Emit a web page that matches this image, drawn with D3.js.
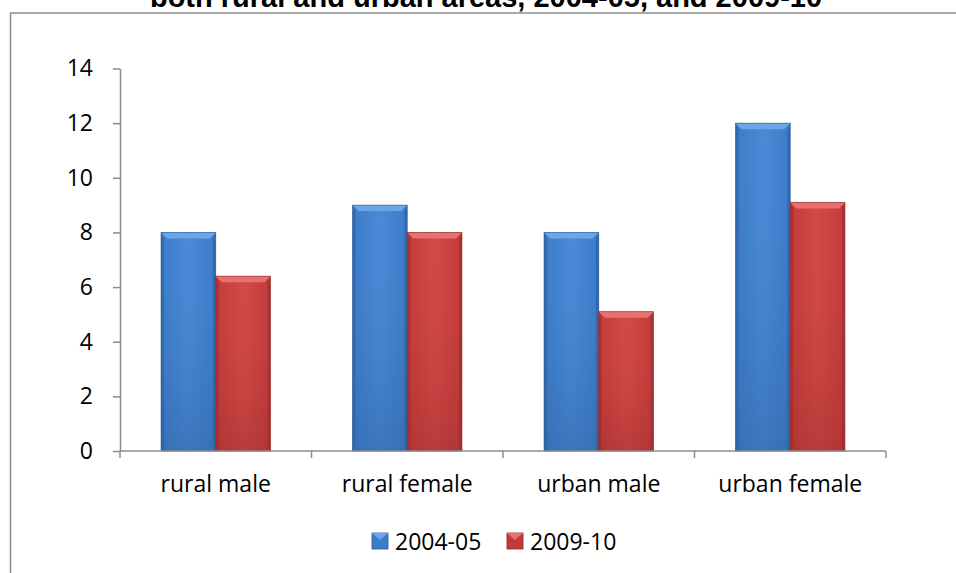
<!DOCTYPE html>
<html><head><meta charset="utf-8">
<script src="https://cdn.jsdelivr.net/npm/d3@7"></script>
<style>body{margin:0;background:#fff}svg{display:block}</style>
</head><body>
<svg id="c" width="956" height="573"></svg>
<script>
const categories = ["rural male", "rural female", "urban male", "urban female"];
const seriesNames = ["2004-05", "2009-10"];
const values2004 = [8, 9, 8, 12];
const values2009 = [6.4, 8, 5.1, 9.1];
const yTicks = [0, 2, 4, 6, 8, 10, 12, 14];
const titleText = "both rural and urban areas, 2004-05, and 2009-10";

(function(){
const seriesValues = [values2004, values2009];
const palette = [
  {top:"#6aa6e8", light:"#4a8ad6", mid:"#3c7bc8", dark:"#2d5f9f", edge:"#2a5590"},
  {top:"#e8706e", light:"#d14a48", mid:"#c23b3a", dark:"#9c2c2b", edge:"#8a2626"}
];

const svg = d3.select("#c");
const font = "'Open Sans', Lato, sans-serif";
const fs = 23;

svg.append("path").attr("d","M10.5,573 L10.5,13 L956,13")
  .attr("fill","none").attr("stroke","#8c8c8c").attr("stroke-width",1.5);

svg.append("text").attr("x",486).attr("y",7).attr("text-anchor","middle")
  .attr("font-family","'Liberation Sans', Arial, sans-serif").attr("font-weight","bold")
  .attr("font-size",29).attr("fill","#000").text(titleText);

const pLeft = 120, pRight = 886, pTop = 68.5, pBottom = 451;
const x = d3.scaleBand().domain(categories).range([pLeft, pRight]).paddingInner(0.4286).paddingOuter(0.2143);
const xs = d3.scaleBand().domain(seriesNames).range([0, x.bandwidth()]);
const y = d3.scaleLinear().domain([0, 14]).range([pBottom, pTop]);

const defs = svg.append("defs");
palette.forEach((p,i)=>{
  const g = defs.append("linearGradient").attr("id","g"+i).attr("x1",0).attr("x2",1).attr("y1",0).attr("y2",0);
  g.append("stop").attr("offset","0").attr("stop-color",p.mid);
  g.append("stop").attr("offset","0.5").attr("stop-color",p.light);
  g.append("stop").attr("offset","1").attr("stop-color",p.mid);
  const v = defs.append("linearGradient").attr("id","v"+i).attr("x1",0).attr("x2",0).attr("y1",0).attr("y2",1);
  v.append("stop").attr("offset","0").attr("stop-color",p.light).attr("stop-opacity",0);
  v.append("stop").attr("offset","1").attr("stop-color",p.dark).attr("stop-opacity",0.45);
});

const bev = 6;
seriesNames.forEach((s, si) => {
  const p = palette[si];
  const gg = svg.append("g");
  categories.forEach((c, ci) => {
    const v = seriesValues[si][ci];
    const x0 = x(c) + xs(s), w = xs.bandwidth(), y0 = y(v), h = y(0) - y(v);
    const b = gg.append("g");
    b.append("rect").attr("x",x0).attr("y",y0).attr("width",w).attr("height",h).attr("fill","url(#g"+si+")");
    b.append("rect").attr("x",x0).attr("y",y0).attr("width",w).attr("height",h).attr("fill","url(#v"+si+")");
    b.append("path").attr("d",`M${x0},${y0} L${x0+3},${y0+bev} L${x0+3},${y0+h} L${x0},${y0+h}Z`).attr("fill",p.dark).attr("opacity",0.6);
    b.append("path").attr("d",`M${x0+w},${y0} L${x0+w-3},${y0+bev} L${x0+w-3},${y0+h} L${x0+w},${y0+h}Z`).attr("fill",p.dark).attr("opacity",0.6);
    b.append("path").attr("d",`M${x0},${y0} L${x0+w},${y0} L${x0+w-bev},${y0+bev} L${x0+bev},${y0+bev}Z`).attr("fill",p.top);
    b.append("rect").attr("x",x0).attr("y",y0).attr("width",w).attr("height",h).attr("fill","none").attr("stroke",p.edge).attr("stroke-width",0.8).attr("opacity",0.7);
  });
});

const yAxis = d3.axisLeft(y).tickValues(yTicks).tickSize(7).tickPadding(20).tickSizeOuter(0);
const ya = svg.append("g").attr("transform",`translate(${pLeft},0)`).call(yAxis);
ya.select(".domain").attr("stroke","#8c8c8c").attr("stroke-width",1.5);
ya.selectAll(".tick line").attr("stroke","#8c8c8c").attr("stroke-width",1.5);
ya.selectAll(".tick text").attr("font-family",font).attr("font-size",fs).attr("fill","#000");

const xa = svg.append("g").attr("transform",`translate(0,${pBottom})`);
xa.append("line").attr("x1",pLeft).attr("x2",pRight).attr("stroke","#8c8c8c").attr("stroke-width",1.5);
const bounds = categories.map(c => x(c) - x.step()*x.paddingInner()/2).concat([pRight]);
xa.selectAll("line.t").data(bounds).enter().append("line").attr("class","t")
  .attr("x1",d=>d).attr("x2",d=>d).attr("y1",0).attr("y2",7).attr("stroke","#8c8c8c").attr("stroke-width",1.5);
xa.selectAll("text").data(categories).enter().append("text")
  .attr("x",d=>x(d)+x.bandwidth()/2).attr("y",41).attr("text-anchor","middle")
  .attr("font-family",font).attr("font-size",fs).attr("fill","#000").text(d=>d);

const legX = [372, 507];
const lg = svg.append("g");
seriesNames.forEach((s,i)=>{
  const p = palette[i];
  const g = lg.append("g").attr("transform",`translate(${legX[i]},533)`);
  g.append("rect").attr("width",16).attr("height",16).attr("fill",p.mid).attr("stroke",p.edge).attr("stroke-width",0.8);
  g.append("path").attr("d","M0,0 L16,0 L8,7Z").attr("fill",p.top);
  g.append("text").attr("x",23).attr("y",17).attr("font-family",font).attr("font-size",fs).attr("fill","#000").text(s);
});
})();
</script>
</body></html>
